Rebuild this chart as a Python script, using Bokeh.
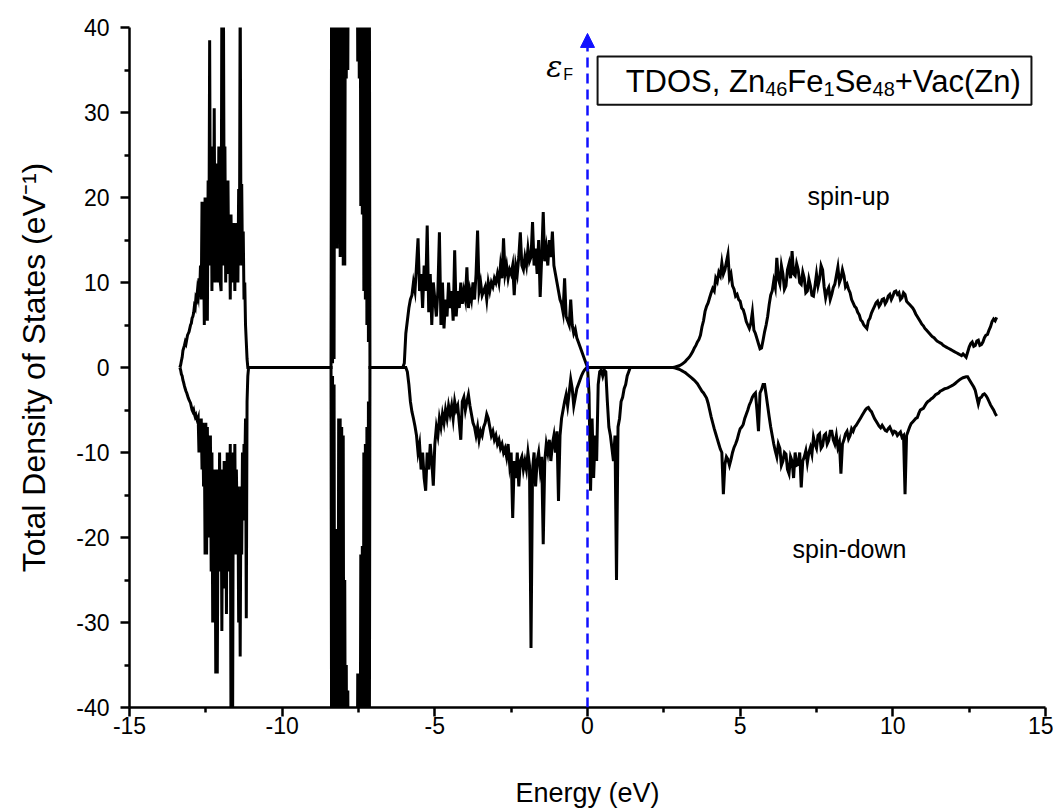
import numpy as np
from bokeh.plotting import figure
from bokeh.models import (Range1d, FixedTicker, Label, BoxAnnotation, Arrow,
                          NormalHead)
from bokeh.embed import file_html
from bokeh.resources import INLINE

# ---------------- data ----------------
# band A (deep region, -13.35 .. -11.1 eV)
bandA_start, bandA_step = -13.35, 0.025
bandA_up = [0, 0.3, 0.8, 1.2, 2.0, 2.3, 2.6, 3.0, 2.8, 3.3,
            3.8, 4.0, 4.2, 4.6, 5.0, 5.2, 5.8, 6.0, 6.4, 7.2,
            7.0, 8.2, 8.0, 9.0, 8.5, 10.5, 9.0, 12.0, 8.0, 19.5,
            10.0, 14.0, 5.0, 20.0, 6.0, 16.0, 5.5, 22.0, 12.0, 38.5,
            14.0, 26.0, 9.0, 24.0, 12.0, 30.5, 10.0, 24.0, 16.0, 22.0,
            10.0, 26.0, 24.0, 10.0, 9.0, 45.0, 12.0, 45.0, 17.0, 26.0,
            10.0, 17.3, 12.0, 22.0, 11.0, 17.0, 8.0, 18.0, 10.0, 16.8,
            12.0, 17.0, 9.0, 16.0, 11.0, 17.0, 10.0, 21.0, 12.0, 45.0,
            16.0, 21.6, 12.0, 16.0, 8.0, 10.0, 5.0, 3.0, 1.0, 0.0, 0.0]
bandA_dn = [0, -0.3, -0.8, -1.0, -1.5, -1.8, -2.2, -2.5, -2.8, -3.0,
            -3.3, -3.6, -3.8, -4.0, -4.2, -4.6, -5.0, -5.2, -5.0, -5.5,
            -5.8, -5.6, -6.0, -6.3, -6.0, -10.0, -6.5, -10.0, -6.0, -12.0,
            -6.5, -14.0, -7.0, -22.0, -6.5, -22.0, -7.0, -16.0, -9.0, -20.0,
            -8.0, -24.0, -10.0, -30.0, -12.0, -22.0, -14.0, -36.0, -12.0, -36.0,
            -16.0, -24.0, -10.0, -20.0, -12.0, -31.0, -14.0, -26.0, -11.0, -22.0,
            -12.0, -29.0, -10.0, -24.0, -10.0, -20.0, -9.0, -45.0, -11.0, -45.0,
            -10.0, -20.0, -9.0, -22.0, -12.0, -18.0, -14.0, -30.0, -16.0, -34.0,
            -14.0, -22.0, -10.0, -18.0, -9.0, -12.0, -6.0, -29.5, -4.0, -1.0, 0.0]

# band B (very high DOS, -8.4 .. -7.1 eV)
bandB_start, bandB_step = -8.40, 0.025
bandB_up = [0, 60, 0.5, 60, 1, 60, 15, 60, 14, 60, 15, 60, 13, 60, 14, 60, 12,
            60, 12, 60, 34, 60, 35, 60, 60, 60, 60, 60, 60, 60, 60, 60, 60, 60,
            60, 36, 60, 34, 60, 19, 60, 18, 60, 9, 60, 8, 60, 5, 60, 3, 60, 0, 0]
bandB_dn = [0, -60, -1, -60, -2, -60, -20, -60, -19, -60, -6, -60, -6, -60, -7,
            -60, -8, -60, -25, -60, -35, -60, -38, -60, -60, -60, -60, -60, -60,
            -60, -60, -60, -60, -60, -60, -36, -60, -37, -60, -22, -60, -21, -60,
            -10, -60, -9, -60, -7, -60, -4, -60, 0, 0]

# band C (valence band, -6.05 .. 0 eV)
bandC_start, bandC_step = -6.05, 0.05
bandC_up = [0, 0.5, 4, 5.5, 7, 8, 8.5, 10, 9, 12, 15.2, 9, 11, 7, 12, 9, 16.7,
            6.5, 11, 5, 10, 8, 6, 9, 15.9, 5, 10, 4.6, 8, 6, 10, 7, 9, 5.5, 13.8,
            6, 9, 7, 10, 7.5, 9, 8, 11.8, 7, 9, 8, 10, 8, 11, 16.1, 9, 10, 8.5, 9,
            9.5, 8, 10, 9, 10, 9.5, 10.5, 10, 11, 10, 12, 10.5, 15.2, 11, 12,
            10.5, 11.5, 11, 12, 8.5, 12, 11, 13, 15.9, 12, 11.5, 13, 12, 14, 12.5,
            13, 17.1, 12, 14, 11, 15, 8.3, 13, 18.3, 12.5, 14, 12, 15, 13, 16, 12,
            11, 10, 9, 8, 7.5, 6.5, 10.5, 6, 5.5, 5, 8, 5, 4, 4.5, 3.5, 3, 2.5, 2,
            1.5, 1, 0.5, 0]
bandC_dn = [0, 0, 0, -0.5, -2, -4, -5.2, -6, -6.9, -8, -10, -9, -12, -10, -13,
            -14.5, -10, -12, -9, -11, -13.9, -9, -7, -8, -6, -7, -5.5, -6.5, -5,
            -6, -4.5, -5.5, -4.5, -6, -4, -5, -4.5, -6.5, -8.5, -4, -3.5, -5, -4,
            -3.2, -4.5, -5.5, -6.5, -7, -8, -7, -8.5, -7.5, -8, -7, -6.5, -5.5,
            -6, -7, -8, -7.5, -8.5, -8, -9, -8.5, -9.5, -9, -10, -9.5, -10.5, -9,
            -11.4, -10, -17.7, -11, -13, -10, -14, -11, -10.5, -12, -11, -12, -10,
            -11.5, -33, -12, -10, -14, -11, -10, -12, -10.5, -20.8, -11, -9, -10,
            -8.5, -11, -9, -8, -10, -7.5, -15.7, -8, -6, -5, -4, -3.2, -4.5, -3,
            -1.4, -2.5, -4.5, -3.5, -2.5, -2, -1.5, -1, -0.6, -0.3, -0.1, 0]

# gap states just above E_F (spin-down only, 0.05 .. 1.45 eV)
gap_start, gap_step = 0.05, 0.05
gap_dn = [-3, -14.5, -6, -13, -8, -11, -2, -0.5, -0.3, -1, -0.3, -0.5, -4, -7,
          -8, -9.5, -11, -8, -25, -7, -6, -4, -3.5, -2.5, -2, -1, -0.5, 0, 0]

# band D (conduction band, 2.8 .. 13.4 eV)
bandD_start, bandD_step = 2.8, 0.05
bandD_up = [0, 0.05, 0.1, 0.15, 0.2, 0.3, 0.4, 0.55, 0.7, 0.9,
            1.1, 1.3, 1.6, 1.9, 2.3, 2.6, 3.0, 3.3, 3.8, 4.8,
            5.5, 6.6, 7.2, 7.6, 8.2, 8.8, 9.3, 9.0, 10.5, 10.1,
            11.2, 10.8, 12.3, 11.0, 11.5, 12.4, 13.3, 10.5, 11.0, 9.6,
            9.2, 8.4, 8.6, 8.0, 7.8, 7.0, 6.8, 6.2, 5.4, 5.0,
            4.6, 5.2, 6.5, 4.4, 4.0, 3.4, 2.8, 2.2, 2.3, 3.2,
            4.2, 5.0, 6.0, 7.4, 8.5, 9.0, 10.2, 9.4, 12.9, 10.4,
            9.8, 12.0, 11.0, 9.2, 9.6, 11.5, 12.2, 10.5, 13.7, 11.0,
            10.8, 12.2, 11.5, 10.0, 9.8, 11.2, 10.5, 8.8, 9.0, 10.4,
            9.6, 8.5, 8.4, 9.6, 11.0, 9.6, 10.4, 12.0, 11.5, 9.5,
            8.2, 9.0, 9.4, 8.0, 8.6, 9.4, 9.8, 10.8, 11.8, 10.0,
            10.5, 11.5, 10.8, 9.5, 9.8, 9.2, 8.8, 8.0, 7.6, 7.2,
            7.0, 6.5, 6.2, 5.6, 5.4, 5.0, 4.8, 4.6, 5.5, 5.8,
            6.4, 6.8, 7.2, 7.6, 7.8, 7.2, 7.5, 8.0, 8.1, 7.5,
            7.8, 8.4, 8.6, 8.0, 8.4, 8.9, 9.0, 8.6, 8.8, 8.0,
            8.2, 8.8, 8.6, 7.8, 7.6, 7.4, 7.2, 7.0, 6.7, 6.3,
            6.0, 5.7, 5.4, 5.1, 4.9, 4.6, 4.4, 4.2, 4.0, 3.8,
            3.6, 3.5, 3.3, 3.1, 3.0, 2.9, 2.8, 2.6, 2.5, 2.4,
            2.3, 2.2, 2.1, 2.0, 1.9, 1.8, 1.7, 1.6, 1.5, 1.4,
            1.6, 1.4, 1.2, 1.8, 2.4, 2.8, 3.0, 2.5, 2.6, 3.1,
            3.2, 2.6, 2.7, 3.0, 3.5, 3.8, 3.9, 4.4, 4.8, 5.4,
            5.7, 5.5, 5.9]
bandD_dn = [0, -0.05, -0.1, -0.15, -0.2, -0.3, -0.4, -0.5, -0.6, -0.75,
            -0.9, -1.05, -1.2, -1.35, -1.5, -1.7, -1.9, -2.2, -2.5, -2.8,
            -3.0, -3.3, -3.6, -4.2, -5.0, -5.8, -6.5, -7.2, -7.8, -8.4,
            -9.0, -9.6, -10.0, -14.9, -11.4, -10.5, -10.8, -11.5, -10.8, -10.0,
            -9.4, -9.0, -8.5, -7.8, -7.2, -7.0, -6.7, -6.0, -5.5, -5.0,
            -4.4, -4.0, -3.5, -3.2, -3.0, -5.0, -7.5, -3.0, -2.6, -2.0,
            -2.0, -3.2, -4.5, -5.8, -7.0, -8.0, -9.0, -9.8, -10.5, -9.0,
            -9.5, -11.5, -11.0, -10.0, -10.2, -12.0, -12.5, -10.5, -11.0, -13.0,
            -10.0, -11.5, -11.4, -10.0, -14.1, -11.0, -10.5, -9.8, -11.2, -10.0,
            -9.4, -10.2, -8.2, -9.0, -9.5, -8.0, -7.8, -9.5, -9.2, -8.0,
            -7.8, -9.0, -8.6, -7.5, -7.5, -8.5, -9.0, -8.0, -9.4, -8.8,
            -12.5, -9.0, -8.5, -7.8, -7.5, -8.4, -8.0, -7.2, -7.5, -7.0,
            -6.8, -6.5, -6.2, -5.9, -5.6, -5.3, -5.0, -4.8, -4.7, -5.0,
            -5.2, -5.6, -6.0, -6.3, -6.6, -6.9, -7.1, -6.8, -7.1, -7.4,
            -7.5, -7.2, -7.0, -7.4, -7.8, -7.5, -7.6, -8.0, -7.8, -7.6,
            -8.2, -8.0, -14.9, -8.0, -7.5, -7.0, -6.6, -6.4, -6.2, -6.0,
            -5.9, -5.4, -5.0, -4.9, -4.8, -4.5, -4.2, -4.0, -3.9, -3.7,
            -3.6, -3.4, -3.2, -3.1, -3.0, -2.8, -2.7, -2.6, -2.5, -2.45,
            -2.4, -2.3, -2.2, -2.1, -2.0, -1.85, -1.7, -1.55, -1.4, -1.3,
            -1.2, -1.15, -1.1, -1.1, -1.4, -1.7, -2.0, -2.3, -2.7, -3.5,
            -4.3, -3.6, -3.5, -3.2, -3.1, -3.3, -3.6, -4.0, -4.4, -4.7,
            -5.0, -5.4, -5.7]

x_ticks = [-15, -10, -5, 0, 5, 10, 15]
x_tick_labels = ["-15", "-10", "-5", "0", "5", "10", "15"]
y_ticks = [-40, -30, -20, -10, 0, 10, 20, 30, 40]
y_tick_labels = ["-40", "-30", "-20", "-10", "0", "10", "20", "30", "40"]
x_minor = [-12.5, -7.5, -2.5, 2.5, 7.5, 12.5]
y_minor = [-35, -25, -15, -5, 5, 15, 25, 35]
fermi_level = 0.0


def grid(start, step, vals):
    return [start + step * i for i in range(len(vals))]


e_up = (grid(bandA_start, bandA_step, bandA_up) + grid(bandB_start, bandB_step, bandB_up)
        + grid(bandC_start, bandC_step, bandC_up) + grid(bandD_start, bandD_step, bandD_up))
d_up = bandA_up + bandB_up + bandC_up + bandD_up
e_dn = (grid(bandA_start, bandA_step, bandA_dn) + grid(bandB_start, bandB_step, bandB_dn)
        + grid(bandC_start, bandC_step, bandC_dn) + grid(gap_start, gap_step, gap_dn)
        + grid(bandD_start, bandD_step, bandD_dn))
d_dn = bandA_dn + bandB_dn + bandC_dn + gap_dn + bandD_dn

FONT = "Liberation Sans"

p = figure(frame_width=916, frame_height=680,
           x_range=Range1d(-15, 15), y_range=Range1d(-40, 40),
           output_backend="svg", toolbar_location=None,
           min_border_left=129, min_border_right=8, min_border_top=27,
           min_border_bottom=60, background_fill_color="white",
           border_fill_color="white")
p.outline_line_color = None
p.xgrid.visible = False
p.ygrid.visible = False

p.line(e_dn, d_dn, line_color="black", line_width=3, line_join="miter")
p.line(e_up, d_up, line_color="black", line_width=3, line_join="miter")

for ax, ticks, labels, minor in ((p.xaxis[0], x_ticks, x_tick_labels, x_minor),
                                 (p.yaxis[0], y_ticks, y_tick_labels, y_minor)):
    ax.ticker = FixedTicker(ticks=ticks, minor_ticks=minor)
    ax.major_label_overrides = {t: l for t, l in zip(ticks, labels)}
    ax.axis_line_width = 2.5
    ax.axis_line_color = "black"
    ax.major_tick_line_width = 2.5
    ax.major_tick_line_color = "black"
    ax.minor_tick_line_width = 2.5
    ax.minor_tick_line_color = "black"
    ax.major_tick_in = 0
    ax.major_tick_out = 9
    ax.minor_tick_in = 0
    ax.minor_tick_out = 5
    ax.major_label_text_font = FONT
    ax.major_label_text_font_size = "23px"
    ax.major_label_text_color = "black"
    ax.axis_label_text_font = FONT
    ax.axis_label_text_font_style = "normal"
    ax.axis_label_text_color = "black"

p.xaxis.axis_label = "Energy (eV)"
p.xaxis.axis_label_text_font_size = "27px"
p.yaxis.axis_label = "Total Density of States (eV\u207b\u00b9)"
p.yaxis.axis_label_text_font_size = "32px"
p.xaxis.major_label_standoff = 0
p.xaxis.axis_label_standoff = 41
p.yaxis.major_label_standoff = 11
p.yaxis.axis_label_standoff = 21

# Fermi level arrow
p.add_layout(Arrow(x_start=fermi_level, y_start=-40, x_end=fermi_level, y_end=39.3,
                   line_color="#1010ff", line_width=2.5, line_dash="10 6",
                   end=NormalHead(size=14, fill_color="#1010ff",
                                  line_color="#1010ff", line_width=1)))

p.add_layout(Label(x=-1.35, y=35.4, text="\u03b5", text_font="DejaVu Serif",
                   text_font_style="italic", text_font_size="30px",
                   text_color="black", text_baseline="alphabetic"))
p.add_layout(Label(x=-1.35, y=35.4, x_offset=17, y_offset=-8, text="F",
                   text_font=FONT, text_font_size="16px", text_color="black",
                   text_baseline="alphabetic"))

# legend box
p.add_layout(BoxAnnotation(left=0.33, right=14.54, top=36.6, bottom=30.9,
                           fill_color="white", fill_alpha=1.0,
                           line_color="#111111", line_alpha=1.0, line_width=2))
pieces = [("TDOS, Zn", 0, 31, 0), ("46", 139.5, 20, -8), ("Fe", 161.7, 31, 0),
          ("1", 197.9, 20, -8), ("Se", 209.0, 31, 0), ("48", 246.9, 20, -8),
          ("+Vac(Zn)", 269.1, 31, 0)]
for txt, xo, fs, yo in pieces:
    p.add_layout(Label(x=1.25, y=33.7, x_offset=xo, y_offset=yo, text=txt,
                       text_font=FONT, text_font_size=f"{fs}px",
                       text_color="black", text_baseline="alphabetic"))

p.add_layout(Label(x=8.55, y=20.2, text="spin-up", text_font=FONT,
                   text_font_size="25px", text_color="black",
                   text_align="center", text_baseline="middle"))
p.add_layout(Label(x=8.58, y=-21.3, text="spin-down", text_font=FONT,
                   text_font_size="25px", text_color="black",
                   text_align="center", text_baseline="middle"))

open("out.html", "w").write(file_html(p, INLINE))
